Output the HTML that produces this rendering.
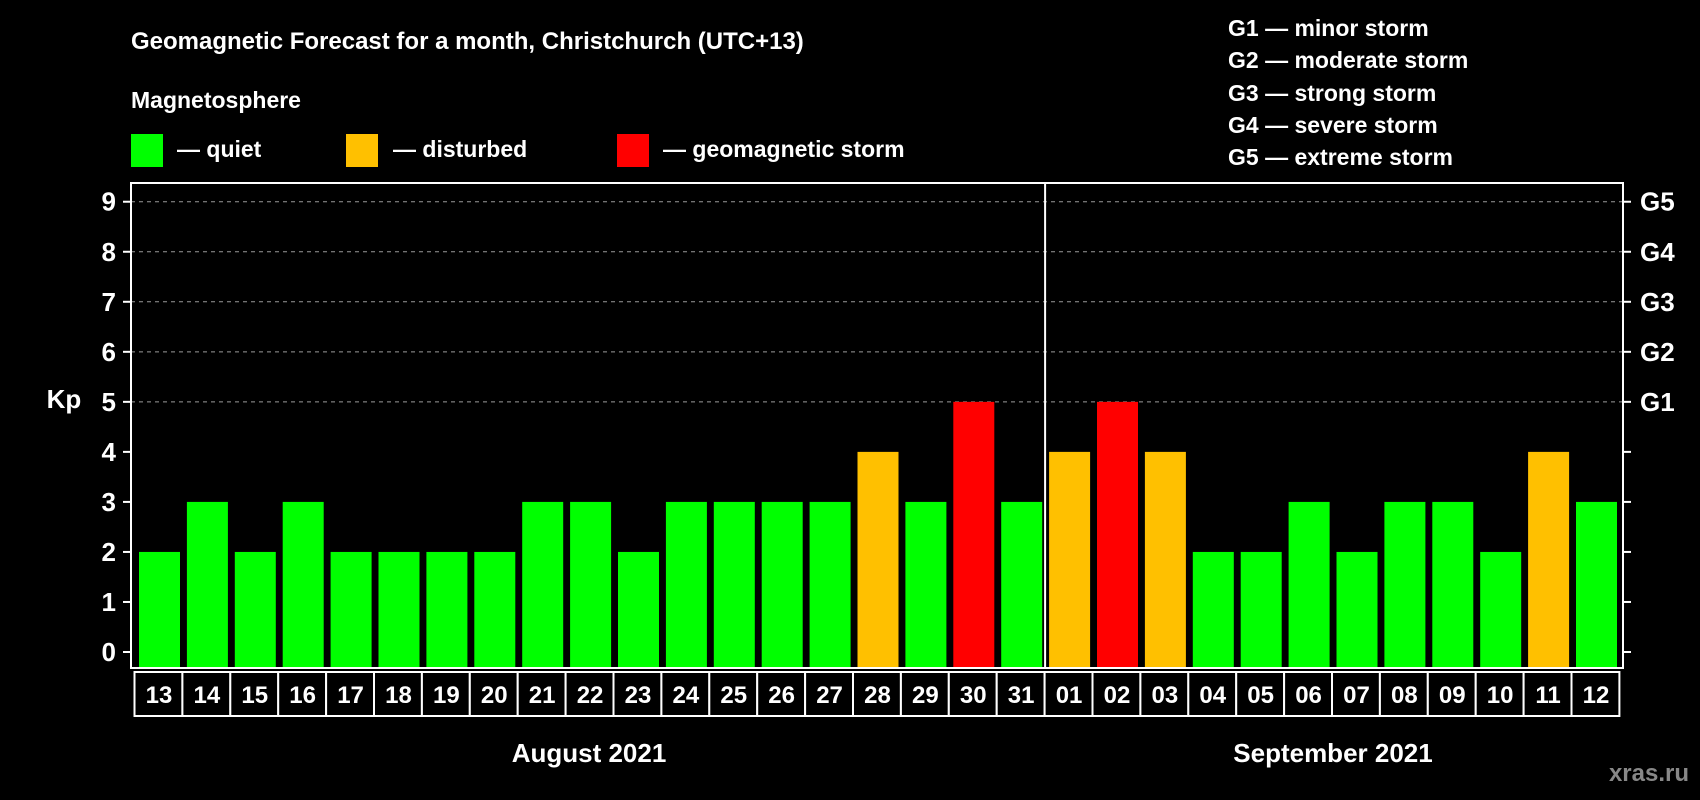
<!DOCTYPE html>
<html><head><meta charset="utf-8"><style>
html,body{margin:0;padding:0;background:#000;}
svg{display:block;font-family:"Liberation Sans",Arial,sans-serif;font-weight:bold;}
</style></head><body>
<svg id="chart" width="1700" height="800" viewBox="0 0 1700 800">
<text x="131" y="49" fill="#fff" font-size="24">Geomagnetic Forecast for a month, Christchurch (UTC+13)</text>
<text x="131" y="108" fill="#fff" font-size="23">Magnetosphere</text>
<g><rect x="131" y="134" width="32" height="33" fill="#00ff00"/><text x="177" y="157" fill="#fff" font-size="23">— quiet</text></g>
<g><rect x="346" y="134" width="32" height="33" fill="#ffc000"/><text x="393" y="157" fill="#fff" font-size="23">— disturbed</text></g>
<g><rect x="617" y="134" width="32" height="33" fill="#ff0000"/><text x="663" y="157" fill="#fff" font-size="23">— geomagnetic storm</text></g>
<g fill="#fff" font-size="23">
<text x="1228" y="36">G1 — minor storm</text>
<text x="1228" y="68">G2 — moderate storm</text>
<text x="1228" y="101">G3 — strong storm</text>
<text x="1228" y="133">G4 — severe storm</text>
<text x="1228" y="165">G5 — extreme storm</text>
</g>
<text x="64" y="408" fill="#fff" font-size="26" text-anchor="middle">Kp</text>
<g id="grid"></g><g id="bars"></g><g id="axes"></g><g id="xlabels"></g>
<text x="589" y="762" fill="#fff" font-size="26" text-anchor="middle">August 2021</text>
<text x="1333" y="762" fill="#fff" font-size="26" text-anchor="middle">September 2021</text>
<text x="1689" y="781" fill="#888" font-size="24" text-anchor="end">xras.ru</text>
</svg>
<script>
const days = ["13","14","15","16","17","18","19","20","21","22","23","24","25","26","27","28","29","30","31","01","02","03","04","05","06","07","08","09","10","11","12"];
const kp = [2,3,2,3,2,2,2,2,3,3,2,3,3,3,3,4,3,5,3,4,5,4,2,2,3,2,3,3,2,4,3];
const yTicks = [0,1,2,3,4,5,6,7,8,9];
const gLabels = ["G1","G2","G3","G4","G5"];
const gLevels = [5,6,7,8,9];
const monthSplit = 19;

const NS="http://www.w3.org/2000/svg";
const X0=135, SLOT=47.9, BW=41, PL=131, PR=1623, PT=183, PB=668;
const xs = i => X0 + i*SLOT;
const ys = v => 652 - v*50.03;
function mk(tag, attrs, parent){const e=document.createElementNS(NS,tag);for(const k in attrs)e.setAttribute(k,attrs[k]);document.getElementById(parent).appendChild(e);return e;}
function color(v){return v>=5?"#ff0000":(v>=4?"#ffc000":"#00ff00");}

yTicks.forEach(t=>{
  if(t>=5){
    const l=mk("line",{x1:PL,x2:PR,y1:ys(t),y2:ys(t),stroke:"#999","stroke-width":1,"stroke-dasharray":"4,4"},"grid");
    
    
  }
  const tk=mk("line",{x1:PL-8,x2:PL,y1:ys(t),y2:ys(t),stroke:"#fff","stroke-width":2},"axes");
  
  
  const tr=mk("line",{x1:PR,x2:PR+8,y1:ys(t),y2:ys(t),stroke:"#fff","stroke-width":2},"axes");
  
  
  const tx=mk("text",{x:116,y:ys(t)+9,fill:"#fff","font-size":26,"text-anchor":"end"},"axes");
  tx.textContent=t;
  
  
});
gLabels.forEach((g,i)=>{
  const tx=mk("text",{x:1640,y:ys(gLevels[i])+9,fill:"#fff","font-size":26},"axes");
  tx.textContent=g;
  
  
});
kp.forEach((v,i)=>{
  const r=mk("rect",{x:xs(i)+4,y:ys(v),width:BW,height:ys(0)-ys(v)+16,fill:color(v)},"bars");
  
  
});
const frame=mk("rect",{x:PL,y:PT,width:PR-PL,height:PB-PT,fill:"none",stroke:"#fff","stroke-width":2},"axes");


const div=mk("line",{x1:xs(monthSplit),x2:xs(monthSplit),y1:PT,y2:PB,stroke:"#fff","stroke-width":2},"axes");


days.forEach((d,i)=>{
  const c=mk("rect",{x:xs(i)-0.5,y:672,width:SLOT,height:44,fill:"#000",stroke:"#fff","stroke-width":2},"xlabels");
  
  
  const t=mk("text",{x:xs(i)+SLOT/2,y:703,fill:"#fff","font-size":24,"text-anchor":"middle"},"xlabels");
  t.textContent=d;
  
  
});
</script>
</body></html>
